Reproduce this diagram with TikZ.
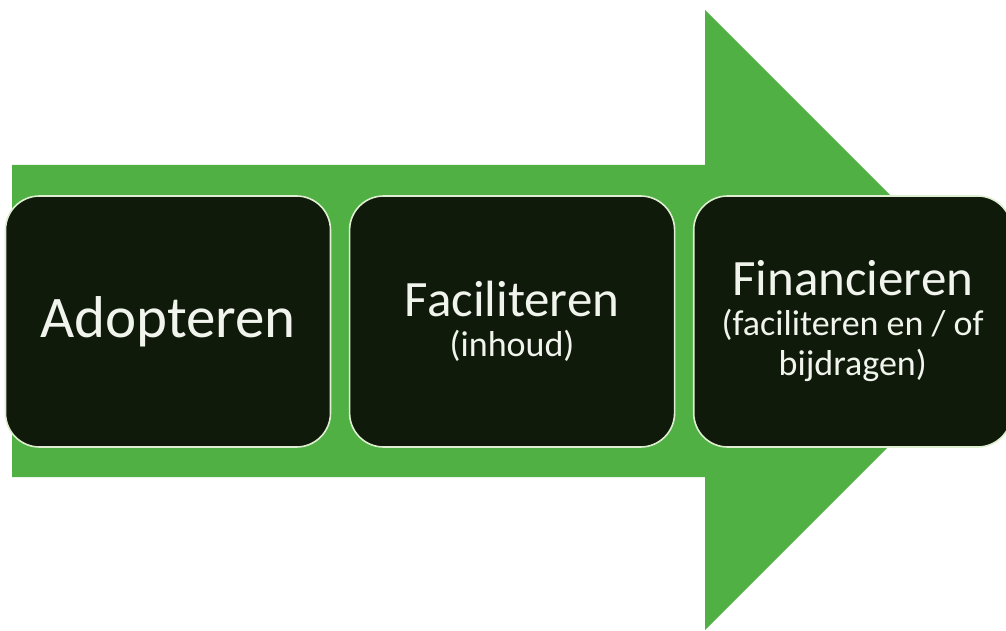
\documentclass[tikz,border=0pt]{standalone}
\usepackage{fontspec}
\setmainfont{Carlito}
\usetikzlibrary{positioning}
\definecolor{pijlgroen}{RGB}{80,176,68}
\definecolor{stapvulling}{RGB}{15,26,10}
\definecolor{staprand}{RGB}{222,238,208}
\definecolor{staptekst}{RGB}{240,244,236}
\newcommand{\kop}[1]{{\fontsize{51}{40}\selectfont #1}}
\tikzset{
  %Define style for the green arrow
  pijl/.style={fill=pijlgroen, draw=none},
  %Define style for boxes
  stap/.style={
    rectangle,
    rounded corners=34pt,
    fill=stapvulling,
    draw=staprand, line width=1.6pt,
    minimum width=325pt,
    minimum height=251pt,
    text=staptekst,
    align=center,
    font=\fontsize{36}{40}\selectfont}
}
\begin{document}
\begin{tikzpicture}[x=1pt,y=-1pt,node distance=17.5pt]
  \useasboundingbox (0,0) rectangle (1006,631);
  \fill[pijl] (12,165) -- (705,165) -- (705,10) -- (1015,320) -- (705,630) -- (705,477) -- (12,477) -- cycle;
  \node[stap] (adopteren) at (168,321.5) {\fontsize{59}{60}\selectfont Adopteren};
  \node[stap, right=of adopteren] (faciliteren) {\kop{Faciliteren}\\(inhoud)};
  \node[stap, right=of faciliteren, minimum width=318pt] (financieren) {\kop{Financieren}\\(faciliteren en / of\\bijdragen)};
\end{tikzpicture}
\end{document}
